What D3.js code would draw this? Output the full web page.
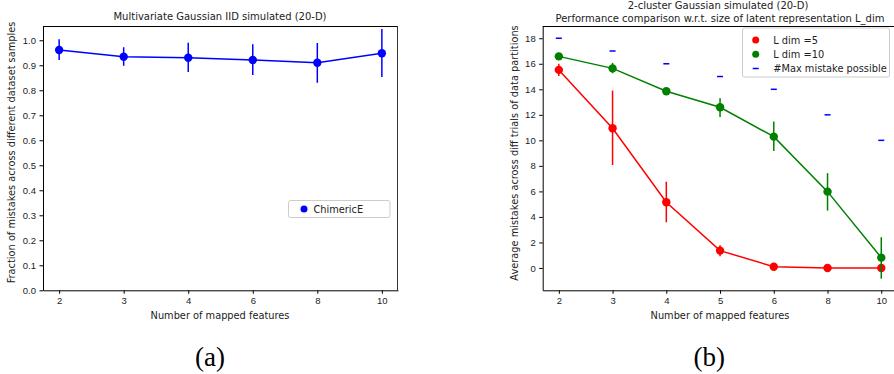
<!DOCTYPE html>
<html>
<head>
<meta charset="utf-8">
<script src="https://cdn.jsdelivr.net/npm/d3@7"></script>
<style>
    body { margin: 0; background: #fff; }
    svg { display: block; font-family: "DejaVu Sans", sans-serif; }
    .axis text { font-size: 9.5px; fill: #222; }
    .axis path, .axis line { stroke: #000; stroke-width: 1; }
</style>
</head>
<body>
<div id="figure"></div>
<script>
// panel (a) data
const featuresA = ["2", "3", "4", "6", "8", "10"]
const chimericMean = [0.961, 0.934, 0.930, 0.921, 0.910, 0.948]
const chimericLow = [0.921, 0.898, 0.873, 0.861, 0.830, 0.853]
const chimericHigh = [1.004, 0.972, 0.990, 0.984, 0.989, 1.045]
const yTicksA = [0.0, 0.1, 0.2, 0.3, 0.4, 0.5, 0.6, 0.7, 0.8, 0.9, 1.0]

// panel (b) data
const featuresB = ["2", "3", "4", "5", "6", "8", "10"]
const ldim5Mean = [15.52, 10.95, 5.15, 1.36, 0.10, 0.0, 0.0]
const ldim5Low = [15.05, 8.07, 3.58, 0.92, 0.0, -0.08, -0.1]
const ldim5High = [16.0, 13.9, 6.76, 1.78, 0.2, 0.08, 0.1]
const ldim10Mean = [16.58, 15.64, 13.85, 12.59, 10.29, 5.98, 0.81]
const ldim10Low = [16.45, 15.26, 13.7, 11.83, 9.17, 4.49, -0.84]
const ldim10High = [16.7, 16.07, 14.0, 13.3, 11.47, 7.43, 2.41]
const maxMistake = [18, 17, 16, 15, 14, 12, 10]
const yTicksB = [0, 2, 4, 6, 8, 10, 12, 14, 16, 18]

const BLUE = "#0000ff", RED = "#ff0000", GREEN = "#008000"

const svg = d3.select("#figure").append("svg")
    .attr("width", 894)
    .attr("height", 374)

function makePanel(box, labels, yDomain, yTicks, yFormat) {
    let g = svg.append("g")
    let x = d3.scaleLinear()
        .domain([-0.05 * (labels.length - 1), (labels.length - 1) * 1.05])
        .range([box.left, box.right])
    let y = d3.scaleLinear()
        .domain(yDomain)
        .range([box.bottom, box.top])

    g.append("g")
        .attr("class", "axis")
        .attr("transform", "translate(0," + box.bottom + ")")
        .call(d3.axisBottom(x)
            .tickValues(d3.range(labels.length))
            .tickFormat(i => labels[i])
            .tickSize(3.5).tickPadding(3.5).tickSizeOuter(0))

    g.append("g")
        .attr("class", "axis")
        .attr("transform", "translate(" + box.left + ",0)")
        .call(d3.axisLeft(y)
            .tickValues(yTicks)
            .tickFormat(yFormat)
            .tickSize(3.5).tickPadding(3.5).tickSizeOuter(0))

    // top and right spines
    g.append("line")
        .attr("x1", box.left).attr("x2", box.right)
        .attr("y1", box.top + 0.5).attr("y2", box.top + 0.5)
        .attr("stroke", "#000")
    g.append("line")
        .attr("x1", box.right - 0.5).attr("x2", box.right - 0.5)
        .attr("y1", box.top).attr("y2", box.bottom)
        .attr("stroke", "#333")

    return { g: g, x: x, y: y }
}

function drawSeries(p, mean, low, high, color) {
    let line = d3.line()
        .x((d, i) => p.x(i))
        .y(d => p.y(d))

    p.g.append("path")
        .datum(mean)
        .attr("d", line)
        .attr("fill", "none")
        .attr("stroke", color)
        .attr("stroke-width", 1.5)

    p.g.selectAll(null)
        .data(mean)
        .enter().append("line")
        .attr("x1", (d, i) => p.x(i))
        .attr("x2", (d, i) => p.x(i))
        .attr("y1", (d, i) => p.y(low[i]))
        .attr("y2", (d, i) => p.y(high[i]))
        .attr("stroke", color)
        .attr("stroke-width", 1.5)

    p.g.selectAll(null)
        .data(mean)
        .enter().append("circle")
        .attr("cx", (d, i) => p.x(i))
        .attr("cy", d => p.y(d))
        .attr("r", 4.2)
        .attr("fill", color)
}

function addText(x, y, txt, size, opts) {
    let t = svg.append("text")
        .attr("x", x)
        .attr("y", y)
        .attr("text-anchor", (opts && opts.anchor) || "middle")
        .attr("font-size", size + "px")
        .attr("fill", "#222")
        .text(txt)
    if (opts && opts.rotate) t.attr("transform", "rotate(-90," + x + "," + y + ")")
    if (opts && opts.family) t.attr("font-family", opts.family).attr("fill", "#000")
    return t
}

// ---------- panel (a)
let pa = makePanel({ left: 43, right: 398, top: 26, bottom: 290.3 },
    featuresA, [0, 1.057], yTicksA, d3.format(".1f"))
drawSeries(pa, chimericMean, chimericLow, chimericHigh, BLUE)

addText(220, 20, "Multivariate Gaussian IID simulated (20-D)", 10)
addText(220, 319, "Number of mapped features", 9.8)
addText(14.7, 152.5, "Fraction of mistakes across different dataset samples", 9.8, { rotate: true })
addText(210, 366, "(a)", 27, { family: "Liberation Serif" })

// legend (a)
pa.g.append("rect")
    .attr("x", 288.5).attr("y", 200.5)
    .attr("width", 101.5).attr("height", 17)
    .attr("rx", 2)
    .attr("fill", "#fff").attr("stroke", "#ccc")
pa.g.append("circle")
    .attr("cx", 304).attr("cy", 209).attr("r", 3.5).attr("fill", BLUE)
addText(313.5, 212.5, "ChimericE", 9.8, { anchor: "start" })

// ---------- panel (b)
let pb = makePanel({ left: 542.7, right: 897.4, top: 26, bottom: 290.3 },
    featuresB, [-1.75, 18.96], yTicksB, d3.format("d"))

drawSeries(pb, ldim5Mean, ldim5Low, ldim5High, RED)
drawSeries(pb, ldim10Mean, ldim10Low, ldim10High, GREEN)

// max mistake markers
pb.g.selectAll(null)
    .data(maxMistake)
    .enter().append("line")
    .attr("x1", (d, i) => pb.x(i) - 3)
    .attr("x2", (d, i) => pb.x(i) + 3)
    .attr("y1", d => pb.y(d))
    .attr("y2", d => pb.y(d))
    .attr("stroke", BLUE)
    .attr("stroke-width", 1.5)

addText(718, 9, "2-cluster Gaussian simulated (20-D)", 10)
addText(720, 21.5, "Performance comparison w.r.t. size of latent representation L_dim", 10)
addText(720, 319, "Number of mapped features", 9.8)
addText(518, 153, "Average mistakes across diff trials of data partitions", 9.8, { rotate: true })
addText(709.3, 366, "(b)", 27, { family: "Liberation Serif" })

// legend (b)
pb.g.append("rect")
    .attr("x", 742.5).attr("y", 28)
    .attr("width", 147).attr("height", 49)
    .attr("rx", 2)
    .attr("fill", "#fff").attr("stroke", "#ccc")
pb.g.append("circle")
    .attr("cx", 755.7).attr("cy", 40).attr("r", 3.5).attr("fill", RED)
pb.g.append("circle")
    .attr("cx", 755.7).attr("cy", 54.3).attr("r", 3.5).attr("fill", GREEN)
pb.g.append("line")
    .attr("x1", 752.7).attr("x2", 758.7)
    .attr("y1", 68.5).attr("y2", 68.5)
    .attr("stroke", BLUE).attr("stroke-width", 1.5)
addText(773.3, 43.5, "L dim =5", 9.8, { anchor: "start" })
addText(773.3, 57.8, "L dim =10", 9.8, { anchor: "start" })
addText(773.3, 72, "#Max mistake possible", 9.8, { anchor: "start" })
</script>
</body>
</html>
